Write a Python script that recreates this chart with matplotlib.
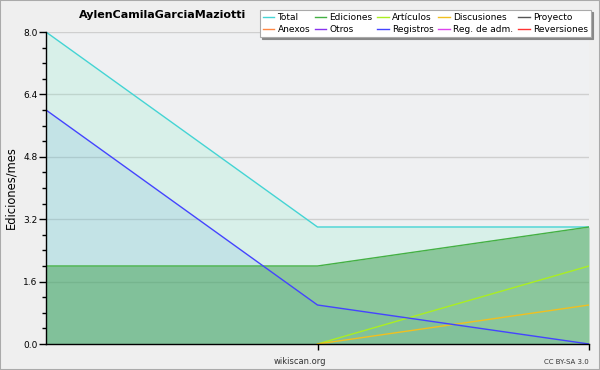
import matplotlib
matplotlib.use("Agg")
import matplotlib.pyplot as plt
from matplotlib.ticker import MultipleLocator
from matplotlib.lines import Line2D
from matplotlib.patches import Rectangle

plt.rcParams['font.family'] = ['DejaVu Sans']

title = "AylenCamilaGarciaMaziotti"
x = [0, 1, 2]
total = [8, 3, 3]
ediciones = [2, 2, 3]
registros = [6, 1, 0]
articulos = [0, 0, 2]
discusiones = [0, 0, 1]

legend_labels = ["Total", "Ediciones", "Artículos", "Discusiones", "Proyecto",
                 "Anexos", "Otros", "Registros", "Reg. de adm.", "Reversiones"]
legend_colors = ["#44d4d4", "#44b044", "#aaee22", "#f0c020", "#555555",
                 "#ff8844", "#8833ee", "#4444ff", "#dd44ee", "#ff3333"]
col = dict(zip(legend_labels, legend_colors))

fig = plt.figure(figsize=(6, 3.7), dpi=100, facecolor="#efefef")
ax = fig.add_axes([46/600, 26/370, (589-46)/600, (344-32)/370])
ax.set_facecolor("#eff0f2")

for v in [1.6, 3.2, 4.8, 6.4, 8.0]:
    ax.axhline(v, color="#cfcfcf", lw=1, zorder=0)

ax.fill_between(x, 0, total, color="#80f0c8", alpha=0.2, lw=0, zorder=1)
ax.fill_between(x, 0, registros, color="#3a8fd8", alpha=0.13, lw=0, zorder=2)
ax.fill_between(x, 0, ediciones, color="#40a050", alpha=0.5, lw=0, zorder=3)

ax.plot(x, total, color=col["Total"], lw=1, zorder=5)
ax.plot(x, ediciones, color=col["Ediciones"], lw=1, zorder=5)
ax.plot(x, registros, color=col["Registros"], lw=1, zorder=6)
ax.plot(x[1:], articulos[1:], color=col["Artículos"], lw=1, zorder=5)
ax.plot(x[1:], discusiones[1:], color=col["Discusiones"], lw=1, zorder=5)

ax.set_xlim(0, 2)
ax.set_ylim(0, 8)
ax.yaxis.set_minor_locator(MultipleLocator(0.4))
ax.set_yticks([0, 1.6, 3.2, 4.8, 6.4, 8.0])
ax.set_yticklabels(["0.0", "1.6", "3.2", "4.8", "6.4", "8.0"])
ax.set_xticks([1, 2])
ax.set_xticklabels([])
ax.tick_params(axis='y', which='major', length=5, width=1, labelsize=6.5, pad=1, colors="black")
ax.tick_params(axis='y', which='minor', length=3, width=1)
ax.tick_params(axis='x', which='major', length=4, width=1)
for s in ["top", "right"]:
    ax.spines[s].set_visible(False)
for s in ["left", "bottom"]:
    ax.spines[s].set_linewidth(1)
    ax.spines[s].set_zorder(10)

ax.set_ylabel("Ediciones/mes", fontsize=8.3)
ax.yaxis.set_label_coords(-0.053, 0.5)

fig.text(163/600, 1 - 15/370, title, fontsize=8, fontweight="bold", ha="center", va="center")
fig.text(300/600, 1 - 361/370, "wikiscan.org", fontsize=6, ha="center", va="center", color="#333333")
fig.text(589/600, 1 - 362/370, "CC BY-SA 3.0", fontsize=5, ha="right", va="center", color="#333333")

order = [0, 5, 1, 6, 2, 7, 3, 8, 4, 9]
handles = [Line2D([], [], color=legend_colors[i], lw=1) for i in order]
labels = [legend_labels[i] for i in order]
leg = fig.legend(handles, labels, ncol=5, loc="upper right",
                 bbox_to_anchor=(591/600, 1 - 10/370), fontsize=6.5,
                 frameon=True, fancybox=False,
                 shadow={'color': '#888888', 'alpha': 1, 'ox': 1.5, 'oy': -1.5},
                 edgecolor="#aaaaaa", framealpha=1, handlelength=1.3,
                 handletextpad=0.35, columnspacing=0.5, labelspacing=0.3,
                 borderpad=0.35, borderaxespad=0)
leg.get_frame().set_linewidth(0.8)

fig.patches.append(Rectangle((0, 0), 1, 1, transform=fig.transFigure, fill=False,
                             edgecolor="#aaaaaa", lw=1.5))

fig.savefig("out.png", dpi=100, facecolor=fig.get_facecolor())
